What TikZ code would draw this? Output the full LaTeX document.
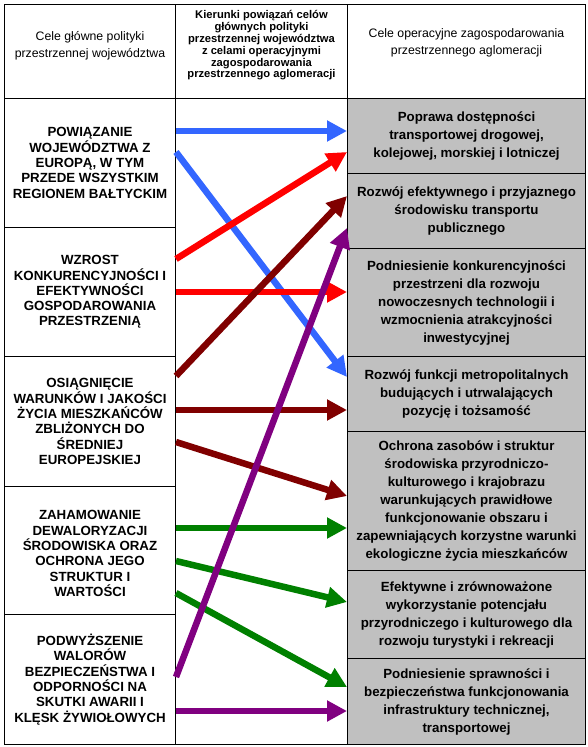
\documentclass[tikz,border=0pt]{standalone}
\usepackage{fontspec}
\setmainfont{Liberation Sans}
\usetikzlibrary{arrows.meta}
\definecolor{linkblue}{RGB}{51,102,255}
\definecolor{linkred}{RGB}{255,0,0}
\definecolor{linkmaroon}{RGB}{128,0,0}
\definecolor{linkgreen}{RGB}{0,128,0}
\definecolor{linkpurple}{RGB}{128,0,128}
\definecolor{cellgray}{RGB}{192,192,192}

\begin{document}
\begin{tikzpicture}[x=1pt, y=-1pt,
    cell/.style={draw, line width=1pt, rectangle, anchor=north west, align=center, inner sep=0pt},
    head/.style={cell, minimum height=94pt},
    headtext/.style={align=center, inner sep=0pt, font=\fontsize{12.3}{17.5}\selectfont},
    goal/.style={cell, minimum width=171pt, font=\bfseries\fontsize{13.3}{15.3}\selectfont},
    target/.style={cell, minimum width=238pt, fill=cellgray, font=\bfseries\fontsize{13.3}{18}\selectfont},
    link/.style={line width=6.5pt, -{Triangle[width=20pt, length=20pt]}}]
    \useasboundingbox (0,0) rectangle (588,747);
    \node[head, minimum width=171pt] (hgoal) at (4,4) {};
    \node[head, minimum width=172pt] (hlink) at (175,4) {};
    \node[head, minimum width=238pt] (htarget) at (347,4) {};
    \node[headtext] (tgoal) at ([yshift=6pt]hgoal.center) {Cele główne polityki\\przestrzennej województwa};
    \node[headtext, font=\bfseries\fontsize{11.2}{11.8}\selectfont] (tlink) at ([yshift=6pt]hlink.center) {Kierunki powiązań celów\\głównych polityki\\przestrzennej województwa\\z celami operacyjnymi\\zagospodarowania\\przestrzennego aglomeracji};
    \node[headtext] (ttarget) at ([yshift=8.5pt]htarget.center) {Cele operacyjne zagospodarowania\\przestrzennego aglomeracji};
    \node[cell, minimum width=172pt, minimum height=646pt] (links) at (175,98) {};
    % cele glowne
    \node[goal, minimum height=129pt] (g1) at (4,98) {POWIĄZANIE\\WOJEWÓDZTWA Z\\EUROPĄ, W TYM\\PRZEDE WSZYSTKIM\\REGIONEM BAŁTYCKIM};
    \node[goal, minimum height=129pt] (g2) at (4,227) {WZROST\\KONKURENCYJNOŚCI I\\EFEKTYWNOŚCI\\GOSPODAROWANIA\\PRZESTRZENIĄ};
    \node[goal, minimum height=130pt] (g3) at (4,356) {OSIĄGNIĘCIE\\WARUNKÓW I JAKOŚCI\\ŻYCIA MIESZKAŃCÓW\\ZBLIŻONYCH DO\\ŚREDNIEJ\\EUROPEJSKIEJ};
    \node[goal, minimum height=128pt] (g4) at (4,486) {\mbox{}\\ZAHAMOWANIE\\DEWALORYZACJI\\ŚRODOWISKA ORAZ\\OCHRONA JEGO\\STRUKTUR I\\WARTOŚCI};
    \node[goal, minimum height=130pt] (g5) at (4,614) {PODWYŻSZENIE\\WALORÓW\\BEZPIECZEŃSTWA I\\ODPORNOŚCI NA\\SKUTKI AWARII I\\KLĘSK ŻYWIOŁOWYCH};
    % cele operacyjne
    \node[target, minimum height=75pt] (o1) at (347,98) {Poprawa dostępności\\transportowej drogowej,\\kolejowej, morskiej i lotniczej};
    \node[target, minimum height=75pt] (o2) at (347,173) {Rozwój efektywnego i przyjaznego\\środowisku transportu\\publicznego};
    \node[target, minimum height=108pt] (o3) at (347,248) {Podniesienie konkurencyjności\\przestrzeni dla rozwoju\\nowoczesnych technologii i\\wzmocnienia atrakcyjności\\inwestycyjnej};
    \node[target, minimum height=75pt] (o4) at (347,356) {Rozwój funkcji metropolitalnych\\budujących i utrwalających\\pozycję i tożsamość};
    \node[target, minimum height=139pt] (o5) at (347,431) {Ochrona zasobów i struktur\\środowiska przyrodniczo-\\kulturowego i krajobrazu\\warunkujących prawidłowe\\funkcjonowanie obszaru i\\zapewniających korzystne warunki\\ekologiczne życia mieszkańców};
    \node[target, minimum height=88pt] (o6) at (347,570) {Efektywne i zrównoważone\\wykorzystanie potencjału\\przyrodniczego i kulturowego dla\\rozwoju turystyki i rekreacji};
    \node[target, minimum height=86pt] (o7) at (347,658) {Podniesienie sprawności i\\bezpieczeństwa funkcjonowania\\infrastruktury technicznej,\\transportowej};
    % powiazania
    \draw[link, linkblue] (g1.east |- 0,131) -- (o1.west |- 0,131);
    \draw[link, linkblue] (g1.east |- 0,152) -- (o4.west |- 0,377);
    \draw[link, linkred] (g2.east |- 0,259) -- (o1.west |- 0,152);
    \draw[link, linkred] (g2.east |- 0,292) -- (o3.west |- 0,292);
    \draw[link, linkmaroon] (g3.east |- 0,376) -- (o2.west |- 0,196);
    \draw[link, linkmaroon] (g3.east |- 0,410) -- (o4.west |- 0,410);
    \draw[link, linkmaroon] (g3.east |- 0,442) -- (o5.west |- 0,496);
    \draw[link, linkgreen] (g4.east |- 0,528) -- (o5.west |- 0,528);
    \draw[link, linkgreen] (g4.east |- 0,561) -- (o6.west |- 0,602);
    \draw[link, linkgreen] (g4.east |- 0,593) -- (o7.west |- 0,687);
    \draw[link, linkpurple] (g5.east |- 0,677) -- (o2.west |- 0,228);
    \draw[link, linkpurple] (g5.east |- 0,711) -- (o7.west |- 0,711);
\end{tikzpicture}
\end{document}
